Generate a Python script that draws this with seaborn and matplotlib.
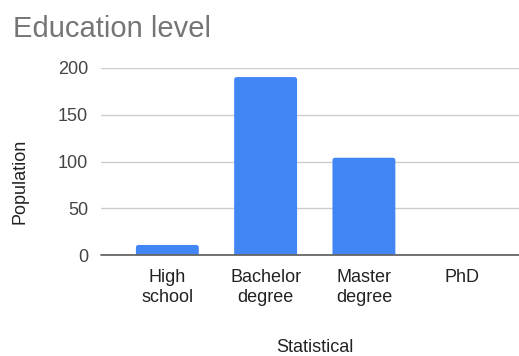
import matplotlib
matplotlib.use("Agg")
import matplotlib.pyplot as plt
from matplotlib.patches import FancyBboxPatch
import seaborn as sns
import pandas as pd

# Survey counts by highest education level
categories = ["High\nschool", "Bachelor\ndegree", "Master\ndegree", "PhD"]
population = [11, 190, 104, 0]
y_ticks = [0, 50, 100, 150, 200]

df = pd.DataFrame({"level": categories, "population": population})

sns.set_theme(style="white")
plt.rcParams["font.family"] = ["Liberation Sans", "DejaVu Sans"]

W, H = 519, 356
fig = plt.figure(figsize=(W / 100, H / 100), dpi=100)
ax = fig.add_axes([100.7 / W, 1 - 255.3 / H, (519 - 100.7) / W, (255.3 - 67.7) / H])

sns.barplot(data=df, x="level", y="population", color="#4285F4",
            width=0.64, saturation=1, ax=ax, zorder=3)

ax.set_xlim(-0.678, 3.578)
ax.set_ylim(0, 200)

# Give each bar softly rounded top corners; the bottom corners are pushed
# below the baseline so the axes clip them off.
x_per_px = (3.578 + 0.678) / (519 - 100.7)
y_per_px = 200 / (255.3 - 67.7)
radius = 2.5 * x_per_px
for p in list(ax.patches):
    x0, w, h = p.get_x(), p.get_width(), p.get_height()
    if h <= 0:
        p.remove()
        continue
    drop = 4 * y_per_px
    rounded = FancyBboxPatch((x0, -drop), w, h + drop,
                             boxstyle=f"round,pad=0,rounding_size={radius}",
                             mutation_aspect=y_per_px / x_per_px,
                             facecolor=p.get_facecolor(), edgecolor="none",
                             zorder=3)
    p.remove()
    ax.add_patch(rounded)

ax.set_yticks(y_ticks)
ax.set_yticklabels([str(t) for t in y_ticks])
ax.yaxis.grid(True, color="#cccccc", linewidth=1.0, zorder=0)
ax.set_axisbelow(True)
ax.axhline(0, color="#666666", linewidth=1.3, zorder=4, clip_on=False)

for s in ax.spines.values():
    s.set_visible(False)

ax.tick_params(axis="y", length=0, pad=9, labelsize=13, labelcolor="#444444")
ax.tick_params(axis="x", length=0, pad=10, labelsize=13, labelcolor="#222222")
ax.set_xlabel("")
ax.set_ylabel("")

fig.text(12.7 / W, 1 - 37 / H, "Education level", fontsize=21,
         color="#757575", ha="left", va="baseline")
fig.text(20 / W, 1 - 181 / H, "Population", fontsize=13, color="#222222",
         rotation=90, ha="center", va="center")
fig.text(314.5 / W, 1 - 352 / H, "Statistical", fontsize=13, color="#222222",
         ha="center", va="baseline")

fig.savefig("out.png", dpi=100)
